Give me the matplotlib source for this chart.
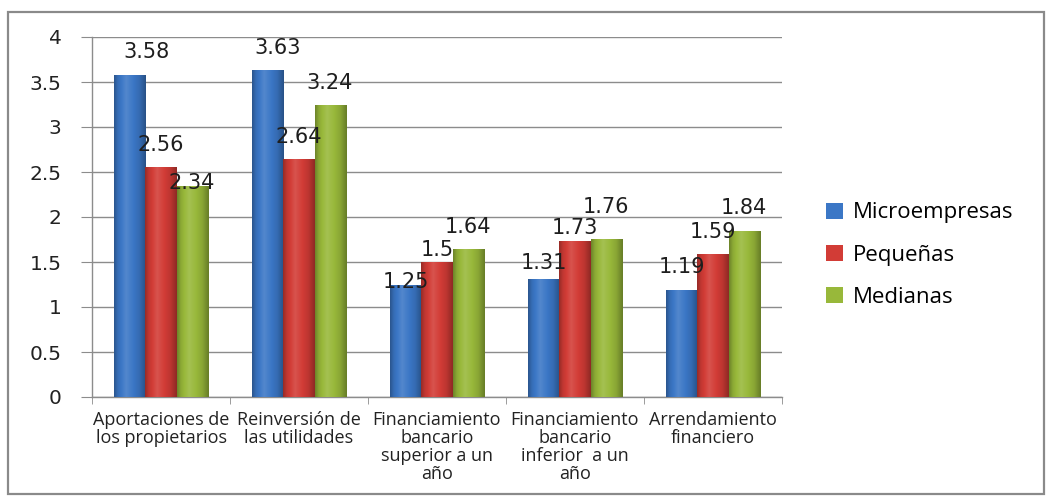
import numpy as np
import matplotlib
matplotlib.use("Agg")
import matplotlib.pyplot as plt
from matplotlib.colors import to_rgb
from matplotlib.patches import Rectangle

# Fuentes de financiamiento por tamaño de empresa
categorias = [
    "Aportaciones de\nlos propietarios",
    "Reinversión de\nlas utilidades",
    "Financiamiento\nbancario\nsuperior a un\naño",
    "Financiamiento\nbancario\ninferior  a un\naño",
    "Arrendamiento\nfinanciero",
]
series = ["Microempresas", "Pequeñas", "Medianas"]
microempresas = [3.58, 3.63, 1.25, 1.31, 1.19]
pequenas = [2.56, 2.64, 1.50, 1.73, 1.59]
medianas = [2.34, 3.24, 1.64, 1.76, 1.84]
y_ticks = [0, 0.5, 1, 1.5, 2, 2.5, 3, 3.5, 4]

colores = ["#3b77c6", "#d23c36", "#98b83a"]

# desplazamiento de cada etiqueta de valor (px): horizontal y altura sobre la barra
label_dx = [[17, 10, 0, 0, 0], [0, 0, 0, 0, 0], [0, 0, 0, 0, 0]]
label_dy = [[23, 22, 2, 16, 23], [22, 22, 12, 13, 22], [3, 22, 22, 32, 23]]

fig = plt.figure(figsize=(10.55, 4.96), dpi=100)
fig.patch.set_facecolor("white")
ax = fig.add_axes([92 / 1055, 1 - 397 / 496, 690 / 1055, 360 / 496])

# marco exterior del gráfico
fig.patches.append(Rectangle((8 / 1055, 2 / 496), 1036 / 1055, 482 / 496,
                             transform=fig.transFigure, fill=False,
                             edgecolor="#8a8a8a", linewidth=1.6))


def degradado(color, n=64):
    base = np.array(to_rgb(color))
    t = np.linspace(0, 1, n)
    f = np.interp(t, [0, 0.12, 0.38, 0.8, 1], [0.72, 0.92, 1.12, 0.9, 0.68])
    img = np.empty((1, n, 3))
    for i, v in enumerate(f):
        if v > 1:
            img[0, i] = base + (1 - base) * (v - 1)
        else:
            img[0, i] = base * v
    return np.clip(img, 0, 1)


x = np.arange(len(categorias))
ancho = 0.225
datos = [microempresas, pequenas, medianas]
for k, (nombre, valores, color) in enumerate(zip(series, datos, colores)):
    pos = x + (k - 1) * ancho
    barras = ax.bar(pos, valores, ancho, color=color, label=nombre, zorder=2,
                    linewidth=0)
    img = degradado(color)
    for b, v, dx, dy in zip(barras, valores, label_dx[k], label_dy[k]):
        x0 = b.get_x()
        im = ax.imshow(img, extent=[x0, x0 + ancho, 0, v], aspect="auto",
                       zorder=3, interpolation="bilinear")
        im.set_clip_path(b)
        ax.annotate(f"{v:g}", (b.get_x() + ancho / 2, v),
                    xytext=(dx * 0.72, dy * 0.72), textcoords="offset points",
                    ha="center", va="center", fontsize=15, color="#1e1e1e",
                    family="DejaVu Sans", zorder=5)

ax.set_xlim(-0.5, len(categorias) - 0.5)
ax.set_ylim(0, 4)
ax.set_yticks(y_ticks)
ax.set_yticklabels([f"{t:g}" for t in y_ticks], fontsize=14.5, color="#222222",
                   family="DejaVu Sans")
ax.yaxis.grid(True, color="#8c8c8c", linewidth=1)
ax.set_axisbelow(True)

ax.set_xticks(x)
ax.set_xticklabels(categorias, fontsize=13, family="Open Sans", color="#222222",
                   linespacing=1.0)
ax.set_xticks(np.arange(len(categorias) + 1) - 0.5, minor=True)
ax.tick_params(axis="x", which="major", length=0, pad=10)
ax.tick_params(axis="x", which="minor", length=5, color="#8c8c8c", direction="out")
ax.tick_params(axis="y", length=8, color="#8c8c8c", direction="out", pad=14)

for s in ["top", "right"]:
    ax.spines[s].set_visible(False)
for s in ["left", "bottom"]:
    ax.spines[s].set_color("#8c8c8c")
    ax.spines[s].set_linewidth(1)

fig.legend(loc="center left", bbox_to_anchor=(826 / 1055, 1 - 255 / 496),
           frameon=False, prop={"family": "Open Sans", "size": 16},
           handlelength=0.75, handleheight=0.75, handletextpad=0.45,
           labelspacing=0.95, borderpad=0, borderaxespad=0)

fig.savefig("out.png", dpi=100, facecolor="white")
